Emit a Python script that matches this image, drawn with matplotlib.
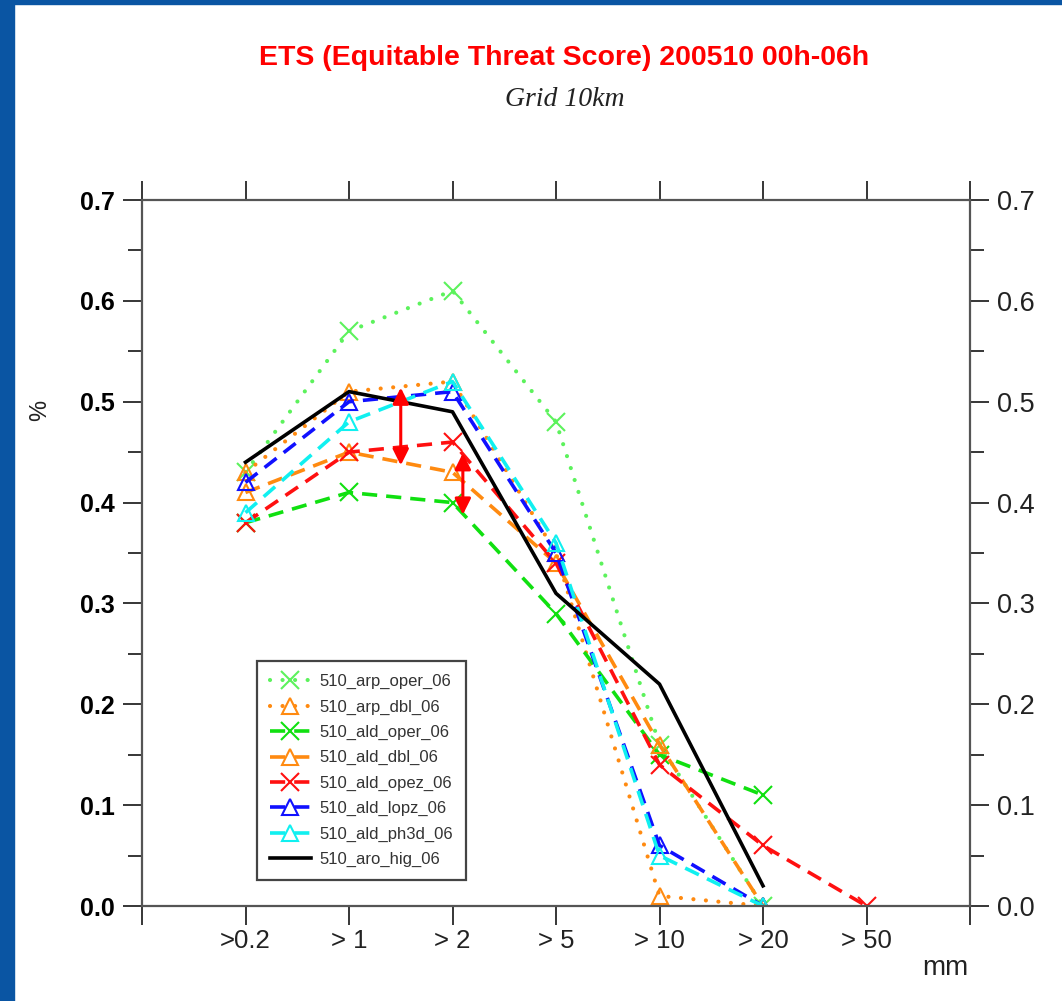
import numpy as np
import matplotlib
matplotlib.use('Agg')
import matplotlib.pyplot as plt
from matplotlib.patches import Rectangle

# categories (precipitation thresholds)
categories = ['>0.2', '> 1', '> 2', '> 5', '> 10', '> 20', '> 50']

# ETS per run
arp_oper = [0.43, 0.57, 0.61, 0.48, 0.16, 0.00, np.nan]
arp_dbl = [0.43, 0.51, 0.52, 0.35, 0.01, 0.00, np.nan]
ald_oper = [0.38, 0.41, 0.40, 0.29, 0.15, 0.11, np.nan]
ald_dbl = [0.41, 0.45, 0.43, 0.34, 0.16, 0.00, np.nan]
ald_opez = [0.38, 0.45, 0.46, 0.34, 0.14, 0.06, 0.00]
ald_lopz = [0.42, 0.50, 0.51, 0.35, 0.06, 0.00, np.nan]
ald_ph3d = [0.39, 0.48, 0.52, 0.36, 0.05, 0.00, np.nan]
aro_hig = [0.44, 0.51, 0.49, 0.31, 0.22, 0.02, np.nan]

# red double arrows: (x, y_top, y_bottom)
arrows = [(1.5, 0.514, 0.437), (2.1, 0.449, 0.388)]

plt.rcParams['font.family'] = ['Liberation Sans', 'DejaVu Sans']

fig = plt.figure(figsize=(10.62, 10.01), dpi=100)
fig.patches.append(Rectangle((0, 0), 14/1062, 1, transform=fig.transFigure,
                             color='#0a55a3', zorder=0))
fig.patches.append(Rectangle((0, 1 - 4/1001), 1, 4/1001, transform=fig.transFigure,
                             color='#0a55a3', zorder=0))

ax = fig.add_axes([142/1062, 1 - 906/1001, 828/1062, 706/1001])
x = np.arange(len(categories))

series = [
    ('510_arp_oper_06', arp_oper, '#5cf25c', ':', 'x'),
    ('510_arp_dbl_06', arp_dbl, '#ff8a10', ':', '^'),
    ('510_ald_oper_06', ald_oper, '#10e010', '--', 'x'),
    ('510_ald_dbl_06', ald_dbl, '#ff8a10', '--', '^'),
    ('510_ald_opez_06', ald_opez, '#ff1010', '--', 'x'),
    ('510_ald_lopz_06', ald_lopz, '#1010ff', '--', '^'),
    ('510_ald_ph3d_06', ald_ph3d, '#10f0f0', '--', '^'),
    ('510_aro_hig_06', aro_hig, 'black', '-', None),
]

for name, vals, col, ls, mk in series:
    kw = dict(color=col, linestyle=ls, linewidth=2.6, label=name)
    if ls == ':':
        kw['linewidth'] = 3.0
        kw['dashes'] = (0.01, 3.0)
        kw['dash_capstyle'] = 'round'
    elif ls == '--':
        kw['dashes'] = (4.2, 2.5)
    if mk == 'x':
        kw.update(marker='x', markersize=13, markeredgewidth=1.5)
    elif mk == '^':
        kw.update(marker='^', markersize=12, markerfacecolor='none',
                  markeredgewidth=1.5)
    ax.plot(x, vals, **kw)

for xa, yt, yb in arrows:
    ax.annotate('', xy=(xa, yt), xytext=(xa, yb),
                arrowprops=dict(arrowstyle='<|-|>', color='#ff0000', lw=2.2,
                                mutation_scale=24, shrinkA=0, shrinkB=0))

ax.set_xlim(-1, 7)
ax.set_ylim(0, 0.7)
ax.set_xticks(np.arange(-1, 8))
ax.set_xticklabels([''] + categories + [''])
ax.set_yticks(np.arange(0, 0.71, 0.1))
ax.set_yticks(np.arange(0.05, 0.7, 0.1), minor=True)
ax.set_yticklabels(['%.1f' % v for v in np.arange(0, 0.71, 0.1)])

ax.tick_params(axis='x', which='major', direction='out', length=13.5, width=1.1,
               top=True, labelsize=18.5, pad=3, colors='black')
ax.tick_params(axis='y', which='major', direction='out', length=13.5, width=1.1,
               right=True, labelright=True, labelsize=18, pad=6)
ax.tick_params(axis='y', which='minor', direction='out', length=10, width=1.1,
               right=True)
for tk in ax.yaxis.get_major_ticks():
    tk.label1.set_fontweight('bold')
    tk.label2.set_fontsize(19.5)
    tk.label2.set_color('#222222')
for tk in ax.xaxis.get_major_ticks():
    tk.label1.set_color('#222222')

for sp in ax.spines.values():
    sp.set_color('#555555')
    sp.set_linewidth(1.6)

ax.legend(loc='lower left', bbox_to_anchor=(0.139, 0.037), borderaxespad=0,
          fontsize=12, labelspacing=0.62, handlelength=2.5, handletextpad=0.5,
          fancybox=False, edgecolor='#444444', framealpha=1, borderpad=0.75,
          labelcolor='#333333')
ax.get_legend().get_frame().set_linewidth(1.6)

fig.text(40/1062, 1 - 410/1001, '%', rotation=90, fontsize=17,
         ha='center', va='center', color='#222222')
fig.text(945/1062, 1 - 968/1001, 'mm', fontsize=20, ha='center', va='center',
         color='#222222')

fig.text(564/1062, 1 - 58/1001, 'ETS (Equitable Threat Score) 200510 00h-06h',
         color='#ff0000', fontweight='bold', fontsize=20.5, ha='center', va='center')
fig.text(565/1062, 1 - 100/1001, 'Grid 10km', family='Liberation Serif',
         style='italic', fontsize=20, ha='center', va='center', color='#222222')

fig.savefig('out.png', dpi=100)
